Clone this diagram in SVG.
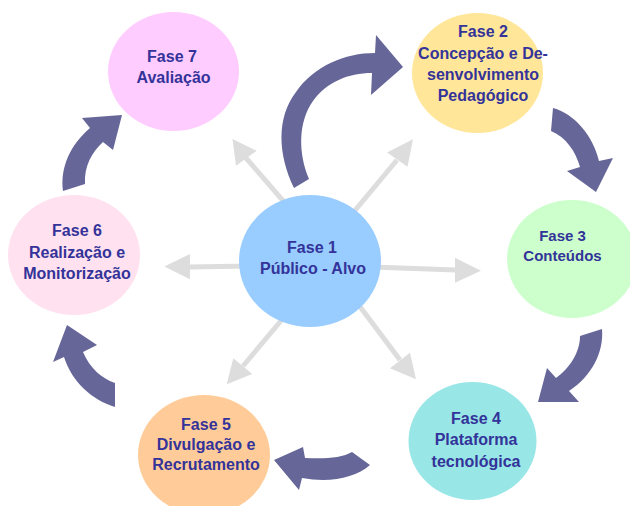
<svg xmlns="http://www.w3.org/2000/svg" width="630" height="506" viewBox="0 0 630 506">
<style>
.lbl{font-family:"Liberation Sans",Arial,sans-serif;font-weight:bold;font-size:16px;fill:#333399;text-anchor:middle}
.sm{font-size:15px}
.ray{stroke:#DDDDDD;stroke-width:5;fill:none}
.rayhead{fill:#DDDDDD}
.flow{fill:#666699}
</style>
<rect width="630" height="506" fill="#FFFFFF"/>
<g id="rays">
<line class="ray" x1="298" y1="218" x2="246" y2="158"/>
<polygon class="rayhead" points="232.5,139 236,165.7 256.7,150.8"/>
<line class="ray" x1="352" y1="214" x2="397" y2="160"/>
<polygon class="rayhead" points="413,139.3 387,152.5 407.5,166.7"/>
<line class="ray" x1="250" y1="266" x2="189" y2="267"/>
<polygon class="rayhead" points="164.3,266.5 190,254 190,279.3"/>
<line class="ray" x1="372" y1="267" x2="456" y2="270"/>
<polygon class="rayhead" points="481,270.7 455,257.7 455,282.7"/>
<line class="ray" x1="285" y1="316" x2="243" y2="366"/>
<polygon class="rayhead" points="226.7,384.3 233.3,358.3 252.3,374"/>
<line class="ray" x1="355" y1="300" x2="400" y2="360"/>
<polygon class="rayhead" points="416,379.3 390,368.3 410,352.7"/>
</g>
<g id="node1">
<ellipse cx="310" cy="261" rx="71" ry="66" fill="#99CCFF"/>
<text class="lbl" x="312" y="253">Fase 1</text>
<text class="lbl" x="313" y="273.5">Público - Alvo</text>
</g>
<g id="node2">
<ellipse cx="477.5" cy="73" rx="65.5" ry="60" fill="#FFE699"/>
<text class="lbl" x="483" y="37">Fase 2</text>
<text class="lbl" x="483" y="58.5">Concepção e De-</text>
<text class="lbl" x="483" y="80">senvolvimento</text>
<text class="lbl" x="483" y="100.5">Pedagógico</text>
</g>
<g id="node3">
<ellipse cx="572" cy="259" rx="65" ry="59" fill="#CCFFCC"/>
<text class="lbl sm" x="562.5" y="241">Fase 3</text>
<text class="lbl sm" x="562.5" y="261">Conteúdos</text>
</g>
<g id="node4">
<ellipse cx="472.5" cy="441" rx="64" ry="59" fill="#99E6E6"/>
<text class="lbl" x="476" y="424">Fase 4</text>
<text class="lbl" x="476" y="445">Plataforma</text>
<text class="lbl" x="476" y="466.5">tecnológica</text>
</g>
<g id="node5">
<ellipse cx="204" cy="455" rx="66" ry="60" fill="#FFCC99"/>
<text class="lbl" x="206" y="430">Fase 5</text>
<text class="lbl" x="206" y="450">Divulgação e</text>
<text class="lbl" x="206" y="470">Recrutamento</text>
</g>
<g id="node6">
<ellipse cx="74" cy="255" rx="66" ry="60" fill="#FFE1EF"/>
<text class="lbl" x="77" y="235.5">Fase 6</text>
<text class="lbl" x="77" y="257.5">Realização e</text>
<text class="lbl" x="77" y="278.5">Monitorização</text>
</g>
<g id="node7">
<ellipse cx="173.5" cy="71.5" rx="65.5" ry="59.5" fill="#FFCCFF"/>
<text class="lbl" x="172" y="62">Fase 7</text>
<text class="lbl" x="173.5" y="83">Avaliação</text>
</g>
<g id="connectors">
<path class="flow" d="M294,188 C278,155 276,118 296,92 C314,66 345,53 375,53 L376,35 L403,67 L371,95 L372,73 C348,73 327,82 313,101 C298,122 298,153 309,179 Z"/>
<path class="flow" d="M553,108 C575,114 593,136 599,161 L613,158 L596,192 L567,171 L580,167 C576,152 566,137 551,131 Z"/>
<path class="flow" d="M602,329 C604,352 592,376 569,391 L579,402 L538,402 L547,368 L556,378 C570,368 580,352 580,336 Z"/>
<path class="flow" d="M352,452 C342,458 325,459 305,458 L303,447 L274,460 L299,490 L302,478 C330,483 355,478 370,465 Z"/>
<path class="flow" d="M115,407 C92,400 72,382 64,357 L53,362 L67,325 L97,345 L83,352 C90,368 101,378 115,383 Z"/>
<path class="flow" d="M63,191 C60,168 70,145 90,128 L82,118 L122,115 L113,150 L103,142 C92,152 84,166 85,184 Z"/>
</g>
</svg>
